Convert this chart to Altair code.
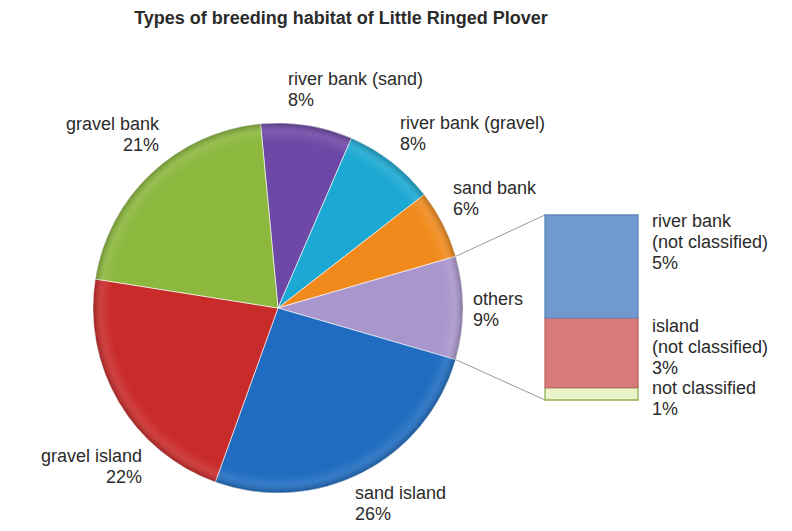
import math
import altair as alt
import pandas as pd

# ---------------- data ----------------
categories = ["river bank (sand)", "river bank (gravel)", "sand bank", "others",
              "sand island", "gravel island", "gravel bank"]
shares = [8, 8, 6, 9, 26, 22, 21]
slice_colors = ["#6E48A6", "#1BA8D2", "#F08A1C", "#A996CC", "#1F6CC0", "#C92A2A", "#8BB83D"]

others_parts = ["not classified", "island\n(not classified)", "river bank\n(not classified)"]
others_shares = [0.6, 3.4, 5.0]
others_colors = ["#EAF2C8", "#D97A7A", "#7099CF"]
others_edges = ["#8FB34E", "#C26464", "#5E87BF"]

title_text = "Types of breeding habitat of Little Ringed Plover"

# ---------------- layout (page px -> view px, page margin 8) ----------------
M = 8
CX, CY, R = 278 - M, 308 - M, 185
BAR_X0, BAR_X1, BAR_TOP, BAR_BOT = 545 - M, 638 - M, 215 - M, 400 - M
FONT = "Liberation Sans"
FS = 18
LH = 21

total = sum(shares)
others_idx = categories.index("others")
before = sum(shares[:others_idx])
start = math.pi / 2 - 2 * math.pi * (before + shares[others_idx] / 2) / total

pie_df = pd.DataFrame({
    "category": categories,
    "share": shares,
    "order": list(range(len(categories))),
})

pie = alt.Chart(pie_df).mark_arc(radius=R, stroke="#ffffff", strokeWidth=1, strokeOpacity=0.6).encode(
    theta=alt.Theta("share:Q", stack=True,
                    scale=alt.Scale(domain=[0, total], range=[start, start + 2 * math.pi])),
    color=alt.Color("category:N", scale=alt.Scale(domain=categories, range=slice_colors), legend=None),
    order=alt.Order("order:Q"),
    x=alt.value(CX),
    y=alt.value(CY),
)

# soft bevel shading over the whole pie
shade = alt.Chart(pd.DataFrame({"k": [1]})).mark_arc(
    radius=R, theta=0, theta2=2 * math.pi,
    fill=alt.RadialGradient(
        gradient="radial", x1=0.5, y1=0.5, r1=0, x2=0.5, y2=0.5, r2=0.5,
        stops=[alt.GradientStop(offset=0, color="rgba(255,255,255,0)"),
               alt.GradientStop(offset=0.9, color="rgba(255,255,255,0)"),
               alt.GradientStop(offset=0.955, color="rgba(255,255,255,0.10)"),
               alt.GradientStop(offset=1, color="rgba(0,0,0,0.22)")]),
).encode(x=alt.value(CX), y=alt.value(CY))

# others bar (stacked)
bar_df = pd.DataFrame({
    "part": others_parts,
    "share": others_shares,
    "order": list(range(len(others_parts))),
})
others_total = sum(others_shares)
bar_y = alt.Scale(domain=[0, others_total], range=[BAR_BOT, BAR_TOP], nice=False, zero=True)
bar = alt.Chart(bar_df).transform_stack(
    stack="share", as_=["y0", "y1"], groupby=[], sort=[alt.SortField("order", order="ascending")]
).mark_rect(strokeWidth=1.3).encode(
    y=alt.Y("y0:Q", axis=None, scale=bar_y),
    y2="y1:Q",
    color=alt.Color("part:N", scale=alt.Scale(domain=others_parts, range=others_colors), legend=None),
    stroke=alt.Stroke("part:N", scale=alt.Scale(domain=others_parts, range=others_edges), legend=None),
    x=alt.value(BAR_X0),
    x2=alt.value(BAR_X1),
)

# connector lines from the "others" slice edges to the bar
a0 = start + 2 * math.pi * before / total
a1 = start + 2 * math.pi * (before + shares[others_idx]) / total
conn_df = pd.DataFrame({
    "x": [CX + R * math.sin(a0), CX + R * math.sin(a1)],
    "y": [CY - R * math.cos(a0), CY - R * math.cos(a1)],
    "x2": [BAR_X0, BAR_X0],
    "y2": [BAR_TOP, BAR_BOT],
})
conn = alt.Chart(conn_df).mark_rule(color="#9A9A9A", strokeWidth=1).encode(
    x=alt.X("x:Q", scale=None), y=alt.Y("y:Q", scale=None),
    x2="x2:Q", y2="y2:Q",
)

# labels
pie_label_pos = {
    "river bank (sand)": ("left", 288, 73),
    "river bank (gravel)": ("left", 400, 117),
    "sand bank": ("left", 453, 182),
    "others": ("left", 473, 293),
    "sand island": ("left", 355, 487),
    "gravel island": ("right", 142, 450),
    "gravel bank": ("right", 159, 118),
}
bar_label_pos = {
    "river bank\n(not classified)": ("left", 652, 215),
    "island\n(not classified)": ("left", 652, 320),
    "not classified": ("left", 652, 382),
}

rows = []
for c, v in zip(categories, shares):
    al, px, py = pie_label_pos[c]
    rows.append({"label": f"{c}\n{round(v)}%", "x": px - M, "y": py - M - 2, "align": al})
for p, v in zip(others_parts, others_shares):
    al, px, py = bar_label_pos[p]
    rows.append({"label": f"{p}\n{round(v)}%", "x": px - M, "y": py - M - 2, "align": al})
lab_df = pd.DataFrame(rows)

label_layers = []
for al in ["left", "right"]:
    sub = lab_df[lab_df["align"] == al]
    label_layers.append(
        alt.Chart(sub).mark_text(align=al, baseline="top", lineBreak="\n", lineHeight=LH,
                                 font=FONT, fontSize=FS, color="#2B2B2B").encode(
            x=alt.X("x:Q", scale=None), y=alt.Y("y:Q", scale=None), text="label:N")
    )

title = alt.Chart(pd.DataFrame({"t": [title_text]})).mark_text(
    align="center", baseline="top", font=FONT, fontSize=18, fontWeight="bold", color="#2B2B2B"
).encode(text="t:N", x=alt.value(341 - M), y=alt.value(10 - M))

chart = alt.layer(conn, pie, shade, bar, *label_layers, title).resolve_scale(
    x="independent", y="independent", color="independent", theta="independent", stroke="independent"
).properties(
    width=776, height=515, autosize=alt.AutoSizeParams(type="none"), padding=0
).configure_view(stroke=None)

chart.save("out.html", embed_options={"renderer": "svg", "actions": False})
